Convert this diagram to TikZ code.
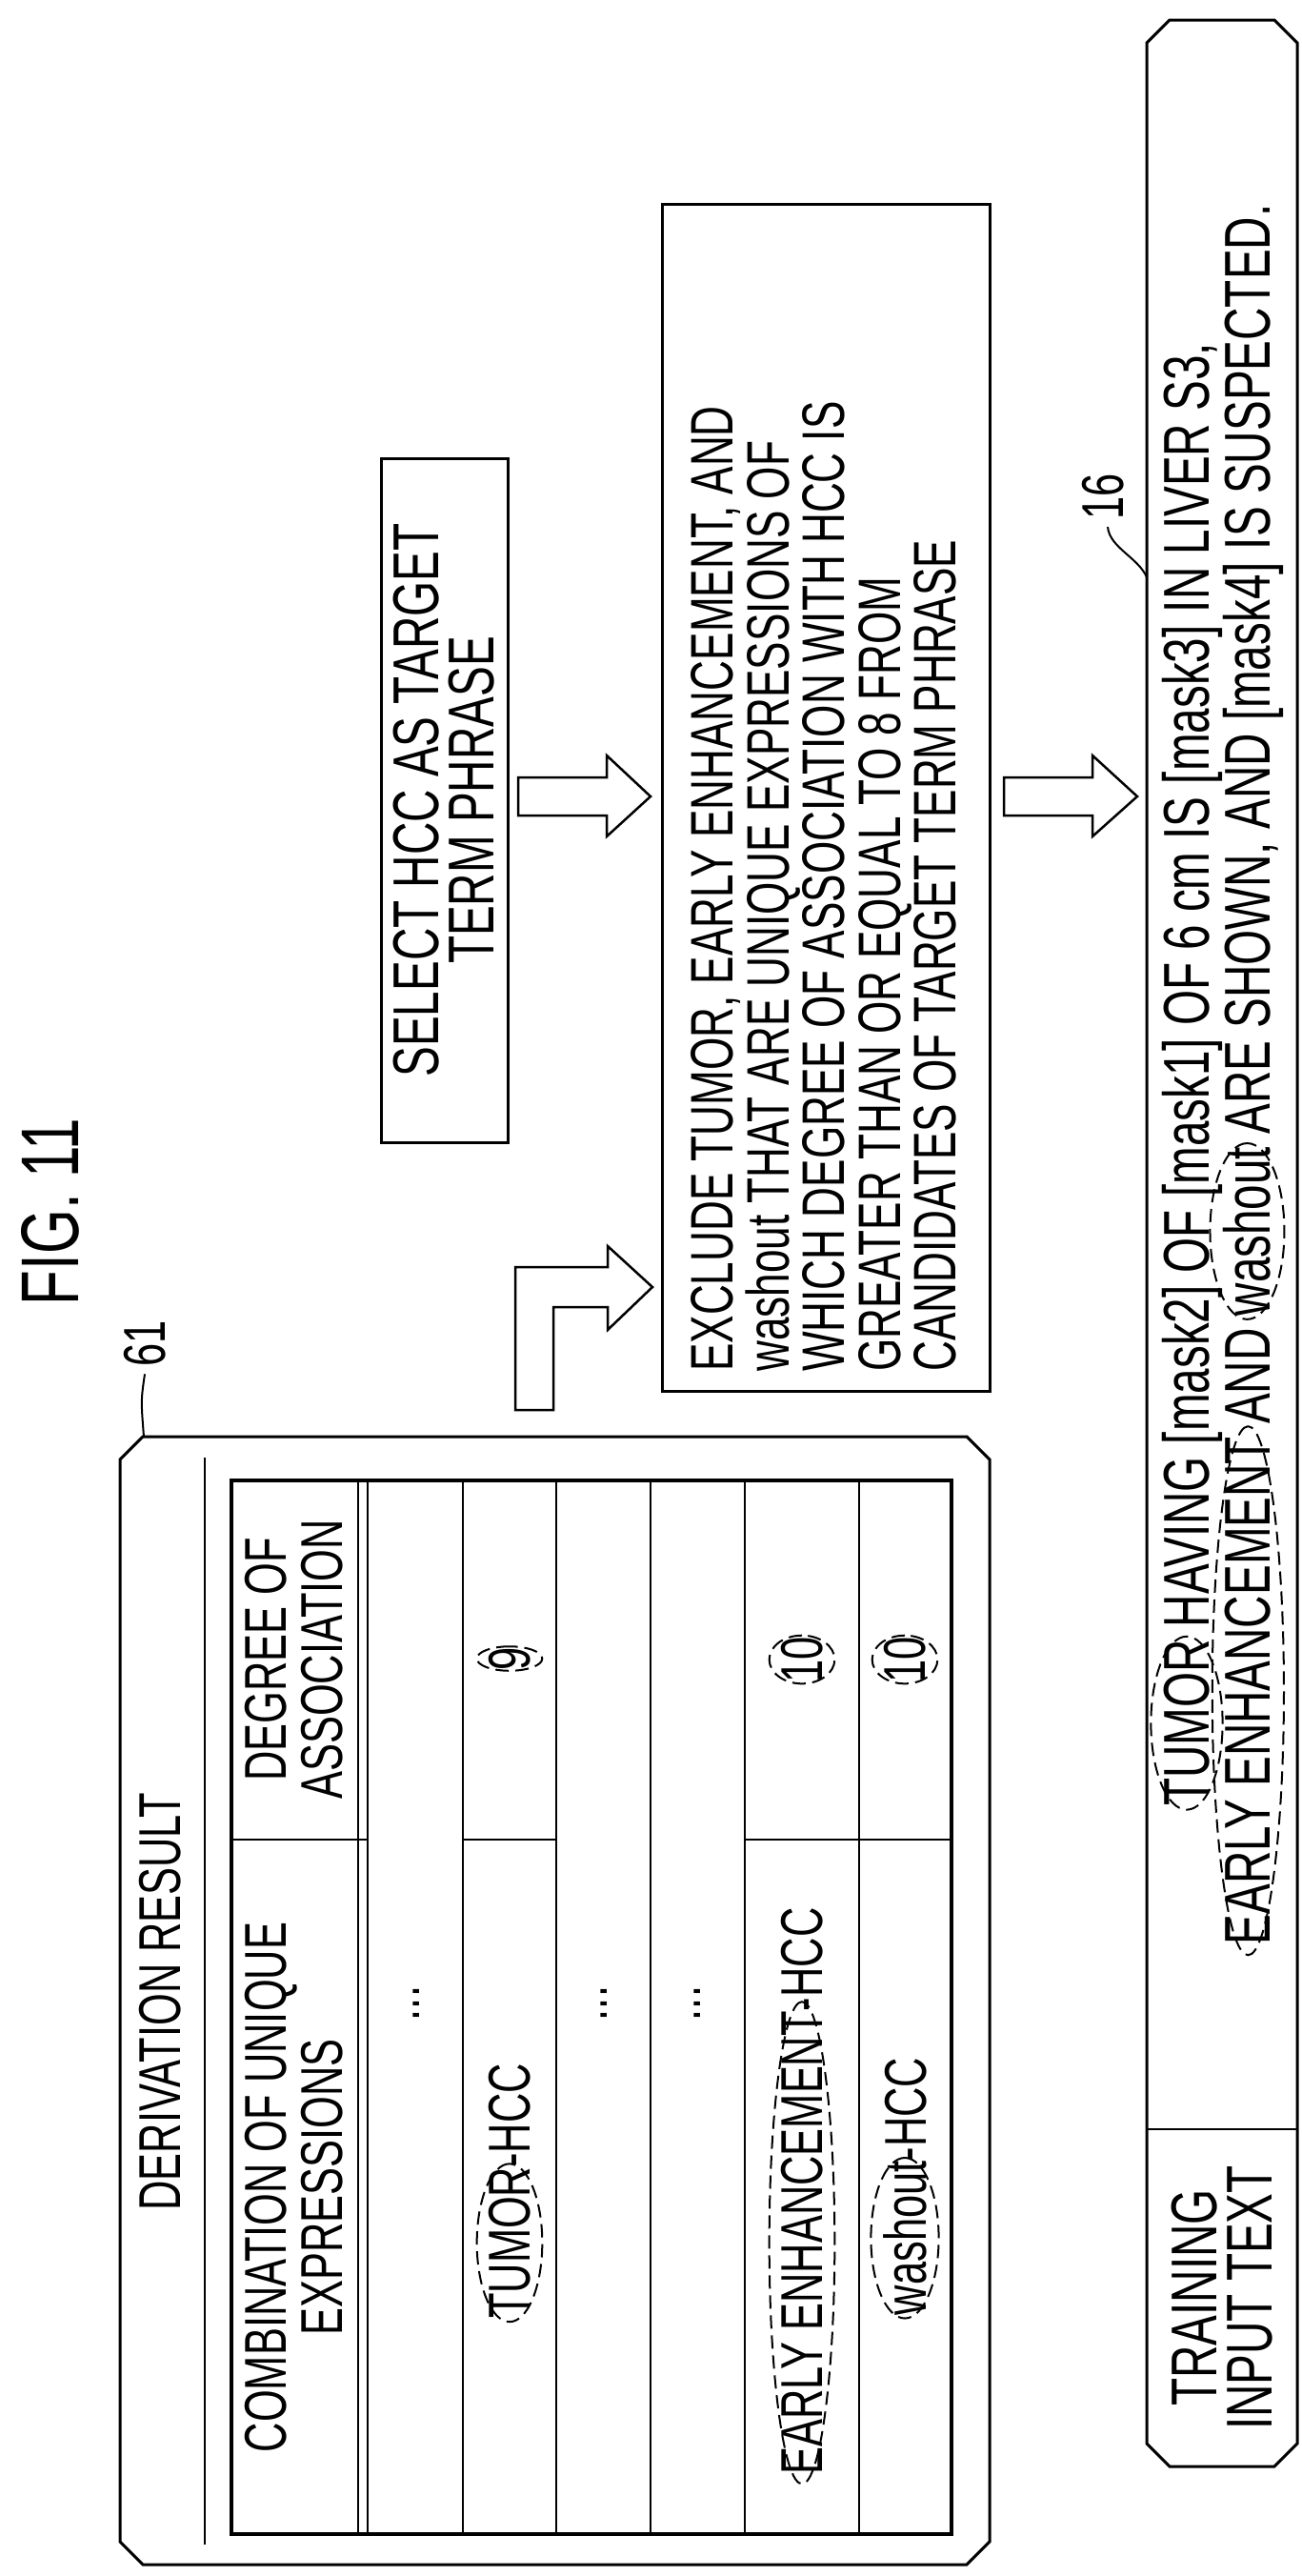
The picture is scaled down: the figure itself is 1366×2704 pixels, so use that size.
\documentclass[tikz,border=0pt]{standalone}
\usepackage{fontspec}
\setmainfont{Liberation Sans}[FakeStretch=0.7]
\usetikzlibrary{calc}
\newcommand\ov[1]{\tikz[baseline=(e.base)]{\node[inner sep=0pt](e) at (0,0){#1};
  \draw[overlay,line width=2pt,dash pattern=on 14pt off 7pt] let \p1=(e.east), \p2=(e.north) in (0,0) ellipse [x radius={\x1*1.04}, y radius={\y2*1.55}];}}
\newcommand\cbox[5]{\draw[line width=3pt] (#1+#5,#2) -- (#3-#5,#2) -- (#3,#2+#5) -- (#3,#4-#5) -- (#3-#5,#4) -- (#1+#5,#4) -- (#1,#4-#5) -- (#1,#2+#5) -- cycle;}
\begin{document}
\begin{tikzpicture}[x=1pt,y=-1pt,
  t/.style={rotate=90,inner sep=0pt,align=center,font=\fontsize{62}{59}\selectfont},
  tb/.style={t,font=\fontsize{68}{58}\selectfont},
  box/.style={draw,line width=3pt,rotate=90,inner sep=0pt},
  blk/.style={draw,line width=2.5pt,fill=white},
  ln/.style={line width=2.5pt},
  lead/.style={line width=2pt}]
\useasboundingbox (0,0) rectangle (1366,2704);
% figure title
\node[t,font=\fontsize{86}{86}\selectfont] (fig) at (53,1272) {FIG. 11};
% select box
\node[box,minimum width=718pt,minimum height=133pt] (sel) at (466.5,840) {};
\node[tb] (selt) at (466.5,840) {SELECT HCC AS TARGET\\TERM PHRASE};
% exclude box
\node[box,minimum width=1246pt,minimum height=344pt] (exc) at (867,837) {};
\node[t,align=left,anchor=west,font=\fontsize{63}{58.5}\selectfont] (exct) at (865,1440) {EXCLUDE TUMOR, EARLY ENHANCEMENT, AND\\washout THAT ARE UNIQUE EXPRESSIONS OF\\WHICH DEGREE OF ASSOCIATION WITH HCC IS\\GREATER THAN OR EQUAL TO 8 FROM\\CANDIDATES OF TARGET TERM PHRASE};
% block arrows
\draw[blk] (544,816) -- (637,816) -- (637,793) -- (683,836) -- (637,878) -- (637,856) -- (544,856) -- cycle;
\draw[blk] (1054,816) -- (1147,816) -- (1147,793) -- (1194,836) -- (1147,878) -- (1147,856) -- (1054,856) -- cycle;
\draw[blk] (541,1480) -- (541,1330) -- (638,1330) -- (638,1308) -- (685,1351) -- (638,1396) -- (638,1372) -- (581,1372) -- (581,1480) -- cycle;
% derivation result box 61
\cbox{126}{1508}{1039}{2692}{24}
\coordinate (b61) at (151,1508);
\node[t] (l61) at (152,1410) {61};
\draw[lead] (l61.west) ++(0,8) .. controls (148,1470) .. (b61);
\node[t] (drt) at (168,2101) {DERIVATION RESULT};
\draw[ln] (215,1530) -- (215,2671);
% table
\draw[line width=3.5pt] (243,1554) rectangle (999,2660);
\foreach \x in {376,386,486,584,683,782,902} \draw[ln] (\x,1554) -- (\x,2660);
\draw[ln] (243,1931) -- (386,1931);
\draw[ln] (486,1931) -- (584,1931);
\draw[ln] (782,1931) -- (999,1931);
\node[t] (h1) at (309,1742) {DEGREE OF\\ASSOCIATION};
\node[t] (h2) at (309,2296) {COMBINATION OF UNIQUE\\EXPRESSIONS};
\node[t] (d1) at (437,2103) {...};
\node[t] (d3) at (634,2103) {...};
\node[t] (d4) at (732,2103) {...};
\node[t] (r2) at (535,2300) {\ov{TUMOR}-HCC};
\node[t] (v2) at (535,1741) {\ov{9}};
\node[t] (r5) at (842,2300) {\ov{EARLY ENHANCEMENT}-HCC};
\node[t] (v5) at (842,1742) {\ov{10}};
\node[t] (r6) at (950,2295) {\ov{washout}-HCC};
\node[t] (v6) at (950,1742) {\ov{10}};
% training input text box 16
\cbox{1204}{21}{1362}{2589}{24}
\draw[ln] (1204,2235) -- (1362,2235);
\node[tb] (tit) at (1283,2412) {TRAINING\\INPUT TEXT};
\node[tb] (txt) at (1284,1128) {\ov{TUMOR} HAVING [mask2] OF [mask1] OF 6 cm IS [mask3] IN LIVER S3,\\\ov{EARLY ENHANCEMENT} AND \ov{washout} ARE SHOWN, AND [mask4] IS SUSPECTED.};
\coordinate (b16) at (1204,606);
\node[t] (l16) at (1158,521) {16};
\draw[lead] (1163,553) .. controls (1165,575) and (1195,585) .. (b16);
\end{tikzpicture}
\end{document}
